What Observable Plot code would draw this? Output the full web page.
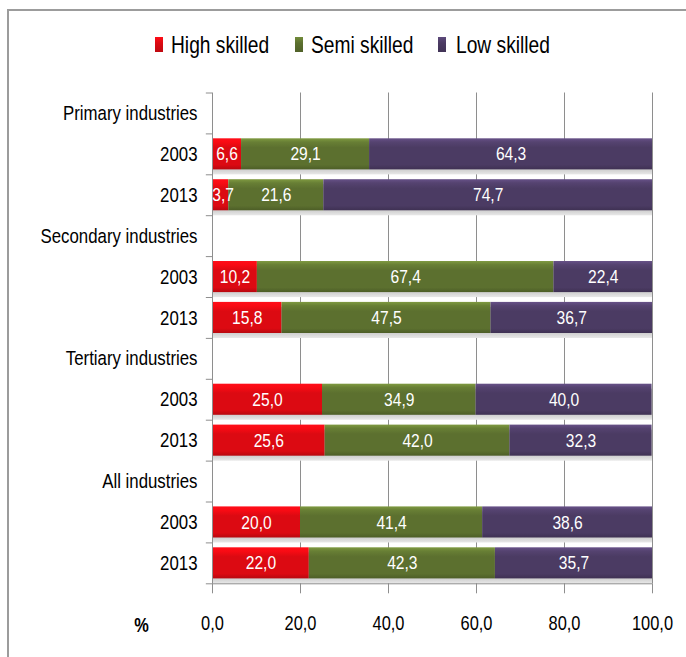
<!DOCTYPE html>
<html><head><meta charset="utf-8">
<script src="https://cdn.jsdelivr.net/npm/d3@7"></script>
<script src="https://cdn.jsdelivr.net/npm/@observablehq/plot@0.6"></script>
<style>
html,body{margin:0;padding:0;background:#fff;overflow:hidden;width:686px;height:657px;}
#frame{position:absolute;left:7px;top:9px;width:720px;height:700px;border-left:2px solid #9c9c9c;border-top:2px solid #9c9c9c;}
#legend{position:absolute;top:0;left:0;width:686px;height:70px;font-family:"Liberation Sans","Arial",sans-serif;}
.item{position:absolute;top:31px;font-size:24px;line-height:28px;color:#000;white-space:nowrap;transform:scaleX(0.8);transform-origin:0 0;}
.sw{position:absolute;top:37px;width:8px;height:15px;}
#chart{position:absolute;top:70px;left:0;}
</style>
</head><body>
<div id="frame"></div>
<div id="legend"></div>
<div id="chart"></div>
<script>
// ---- data ----
const groups = ["Primary industries", "Secondary industries", "Tertiary industries", "All industries"];
const years = ["2003", "2013"];
const series = ["High skilled", "Semi skilled", "Low skilled"];
const high = [6.6, 3.7, 10.2, 15.8, 25.0, 25.6, 20.0, 22.0];
const semi = [29.1, 21.6, 67.4, 47.5, 34.9, 42.0, 41.4, 42.3];
const low  = [64.3, 74.7, 22.4, 36.7, 40.0, 32.3, 38.6, 35.7];
const xTicks = [0, 20, 40, 60, 80, 100];
const colors = ["#dc0a12", "#5c702f", "#4b3b63"];

const fmt = v => d3.format(".1f")(v).replace(".", ",");

// rows: header then years
const rowLabels = [];
groups.forEach(g => { rowLabels.push(g); years.forEach(y => rowLabels.push(y)); });

const valuesBySeries = [high, semi, low];
const segments = [];
const barRows = [];
groups.forEach((g, gi) => {
  years.forEach((y, yi) => {
    const k = gi * 2 + yi;
    const row = gi * 3 + 1 + yi;
    barRows.push({row});
    let acc = 0;
    valuesBySeries.forEach((arr, si) => {
      const v = arr[k];
      segments.push({row, series: series[si], si, value: v, x1: acc, x2: acc + v});
      acc += v;
    });
  });
});

// ---- legend ----
const legend = d3.select("#legend");
const legendPos = [{sw:155, tx:171}, {sw:295, tx:311}, {sw:438, tx:456}];
series.forEach((s, i) => {
  legend.append("div").attr("class", "sw")
    .style("left", legendPos[i].sw + "px")
    .style("background", `linear-gradient(${d3.color(colors[i]).brighter(0.6)}, ${colors[i]} 40%, ${d3.color(colors[i]).darker(0.4)})`);
  legend.append("div").attr("class", "item").style("left", legendPos[i].tx + "px").text(s);
});

// ---- chart ----
const inset = 0.12;
const font = "'Liberation Sans',Arial,sans-serif";
const chart = Plot.plot({
  width: 686,
  height: 587,
  marginLeft: 212,
  marginRight: 34,
  marginTop: 22.5,
  marginBottom: 73.7,
  style: {fontFamily: font, fontSize: "20px", background: "transparent"},
  x: {domain: [0, 100], axis: null},
  y: {domain: [0, 12], reverse: true, axis: null},
  marks: [
    Plot.ruleX(xTicks.slice(1), {y1: 0, y2: 12, stroke: "#8e8e8e", strokeWidth: 1}),
    Plot.rectX(barRows, {x1: 0, x2: 100, y1: d => d.row + inset, y2: d => d.row + 1 - inset, dy: 5, fill: "url(#gShadow)"}),
    ...series.map((s, si) => Plot.rectX(segments.filter(d => d.si === si), {
      x1: "x1", x2: "x2",
      y1: d => d.row + inset, y2: d => d.row + 1 - inset,
      fill: `url(#g${si})`
    })),
    Plot.ruleX([0], {y1: 0, y2: 12, stroke: "#8e8e8e"}),
    Plot.ruleY(d3.range(0, 13), {x1: -1.4, x2: 0, stroke: "#8e8e8e"}),
    Plot.ruleY([12], {x1: 0, x2: 100, stroke: "#8e8e8e"}),
    Plot.axisX({ticks: xTicks, tickFormat: fmt, tickSize: 10, tickPadding: 22, fontSize: 20, stroke: "#8e8e8e", fill: "#000", label: null}),
    Plot.text(["%"], {x: 0, y: 12, text: d => d, dx: -71, dy: 42, fontSize: 20, fontWeight: "bold", fill: "#000"}),
    Plot.text(rowLabels, {x: 0, y: (d, i) => i + 0.5, text: d => d, textAnchor: "end", dx: -15, fontSize: 20.5, fill: "#000"}),
    Plot.text(segments, {x: d => Math.max((d.x1 + d.x2) / 2, d.x1 + 2.4), y: d => d.row + 0.5, text: d => fmt(d.value), fill: "#fff", fontSize: 19})
  ]
});

// gradients for bevelled bars
const defs = d3.select(chart).insert("defs", ":first-child");
colors.forEach((c, i) => {
  const base = d3.color(c);
  const g = defs.append("linearGradient").attr("id", "g" + i).attr("x1", 0).attr("y1", 0).attr("x2", 0).attr("y2", 1);
  [[0, base.brighter(0.9)], [0.12, base.brighter(0.35)], [0.3, base], [0.85, base], [1, base.darker(0.5)]]
    .forEach(([o, col]) => g.append("stop").attr("offset", o).attr("stop-color", col.formatHex()));
});
const sh = defs.append("linearGradient").attr("id", "gShadow").attr("x1", 0).attr("y1", 0).attr("x2", 0).attr("y2", 1);
[[0, "#c8c8c8"], [0.8, "#c8c8c8"], [1, "#e8e8e8"]].forEach(([o, col]) => sh.append("stop").attr("offset", o).attr("stop-color", col));

document.getElementById("chart").appendChild(chart);

// narrow the glyphs to mimic a condensed face (Arial Narrow) - no narrow font installed
d3.select(chart).selectAll("text").each(function() {
  const len = this.getComputedTextLength();
  if (len > 0) {
    this.setAttribute("textLength", (len * 0.82).toFixed(2));
    this.setAttribute("lengthAdjust", "spacingAndGlyphs");
  }
});
</script>
</body></html>
